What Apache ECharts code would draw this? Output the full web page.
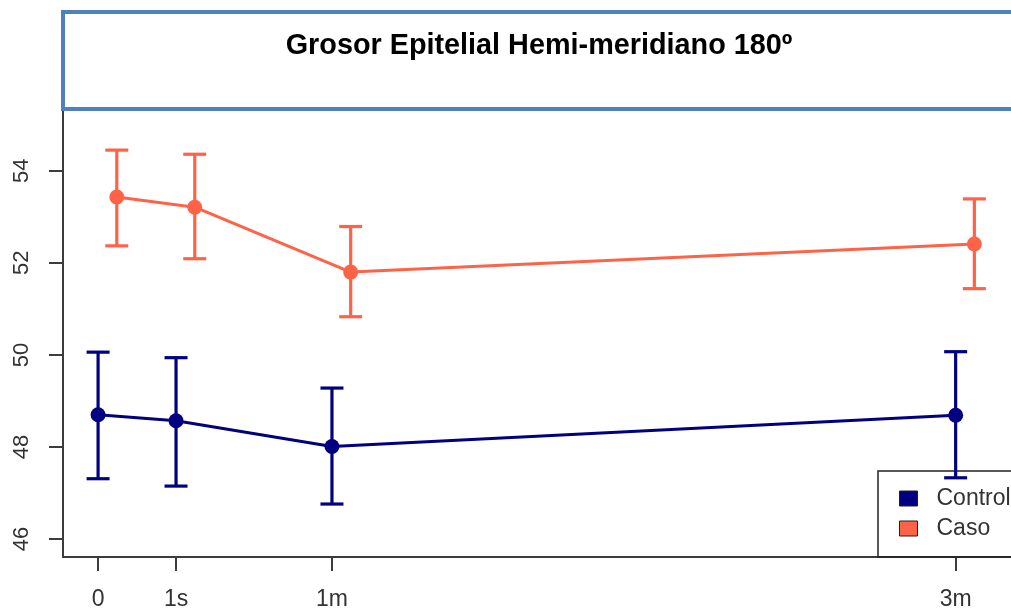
<!DOCTYPE html>
<html>
<head>
<meta charset="utf-8">
<script src="https://cdn.jsdelivr.net/npm/echarts@6/dist/echarts.min.js"></script>
<style>html,body{margin:0;padding:0;background:#fff;}#c{width:1011px;height:611px;}</style>
</head>
<body>
<div id="c"></div>
<script>
var titleText = 'Grosor Epitelial Hemi-meridiano 180º';
var xPos = [0, 1, 3, 11];
var xLabels = ['0', '1s', '1m', '3m'];
var yTicks = [46, 48, 50, 52, 54];
var controlMean = [48.70, 48.57, 48.01, 48.69];
var controlLow  = [47.31, 47.15, 46.76, 47.33];
var controlHigh = [50.06, 49.94, 49.28, 50.07];
var casoMean = [53.43, 53.21, 51.80, 52.41];
var casoLow  = [52.37, 52.09, 50.83, 51.44];
var casoHigh = [54.45, 54.36, 52.79, 53.39];

var casoShift = 0.24;
var FONT = 'Liberation Sans';
var cControl = '#000080';
var cCaso = '#FF6347';

function pts(xs, ys, shift) { return xs.map(function (x, i) { return [x + shift, ys[i]]; }); }
function bars(xs, lo, hi, shift) { return xs.map(function (x, i) { return [x + shift, lo[i], hi[i]]; }); }
function errRender(color) {
  return function (params, api) {
    var x = api.value(0);
    var p1 = api.coord([x, api.value(1)]);
    var p2 = api.coord([x, api.value(2)]);
    var hw = 11.5;
    var st = { stroke: color, lineWidth: 3.2 };
    return { type: 'group', children: [
      { type: 'line', shape: { x1: p1[0], y1: p1[1], x2: p2[0], y2: p2[1] }, style: st },
      { type: 'line', shape: { x1: p1[0] - hw, y1: p1[1], x2: p1[0] + hw, y2: p1[1] }, style: st },
      { type: 'line', shape: { x1: p2[0] - hw, y1: p2[1], x2: p2[0] + hw, y2: p2[1] }, style: st }
    ]};
  };
}

var chart = echarts.init(document.getElementById('c'));
var axisCol = '#3c3c3c';
chart.setOption({
  animation: false,
  backgroundColor: '#fff',
  textStyle: { fontFamily: FONT },
  grid: { left: 63, right: 0, top: 111, bottom: 54 },
  xAxis: {
    type: 'value', min: -0.45, max: 11.71,
    splitLine: { show: false },
    axisLine: { show: true, onZero: false, lineStyle: { color: axisCol, width: 2 } },
    axisTick: { show: true, length: 14, customValues: xPos, lineStyle: { color: axisCol, width: 2 } },
    axisLabel: { customValues: xPos, margin: 31, fontSize: 23, color: '#333', fontFamily: FONT,
      formatter: function (v) { var i = xPos.indexOf(v); return i >= 0 ? xLabels[i] : ''; } }
  },
  yAxis: {
    type: 'value', min: 45.609, max: 55.30,
    splitLine: { show: false },
    axisLine: { show: true, onZero: false, lineStyle: { color: axisCol, width: 2 } },
    axisTick: { show: true, length: 14, customValues: yTicks, lineStyle: { color: axisCol, width: 2 } },
    axisLabel: { customValues: yTicks, rotate: 90, margin: 30, fontSize: 22, color: '#333', fontFamily: FONT }
  },
  legend: {
    orient: 'vertical', left: 878, top: 471,
    padding: [16, 40, 17, 21],
    backgroundColor: 'rgba(255,255,255,0)',
    borderColor: '#222', borderWidth: 1.5, borderRadius: 0,
    itemWidth: 18, itemHeight: 15, itemGap: 7,
    icon: 'rect',
    itemStyle: { borderColor: '#222', borderWidth: 1 },
    textStyle: { fontSize: 23, lineHeight: 23, color: '#333', fontFamily: FONT, padding: [0, 0, 0, 14] },
    data: ['Control', 'Caso']
  },
  graphic: [
    { type: 'rect', z: 100, shape: { x: 63, y: 12, width: 1000, height: 97 },
      style: { fill: 'none', stroke: '#4F81BD', lineWidth: 4 } },
    { type: 'text', z: 101, x: 539, y: 46,
      style: { text: titleText, font: 'bold 28.8px "Liberation Sans"', fill: '#000', align: 'center', verticalAlign: 'middle' } }
  ],
  series: [
    { name: 'Control', type: 'line', data: pts(xPos, controlMean, 0), color: cControl,
      symbol: 'circle', symbolSize: 15, lineStyle: { width: 3, color: cControl }, itemStyle: { color: cControl }, z: 3 },
    { name: 'Caso', type: 'line', data: pts(xPos, casoMean, casoShift), color: cCaso,
      symbol: 'circle', symbolSize: 15, lineStyle: { width: 3, color: cCaso }, itemStyle: { color: cCaso }, z: 3 },
    { name: 'ControlErr', type: 'custom', data: bars(xPos, controlLow, controlHigh, 0),
      renderItem: errRender(cControl), encode: { x: 0, y: [1, 2] }, z: 4 },
    { name: 'CasoErr', type: 'custom', data: bars(xPos, casoLow, casoHigh, casoShift),
      renderItem: errRender(cCaso), encode: { x: 0, y: [1, 2] }, z: 4 }
  ]
});
</script>
</body>
</html>
